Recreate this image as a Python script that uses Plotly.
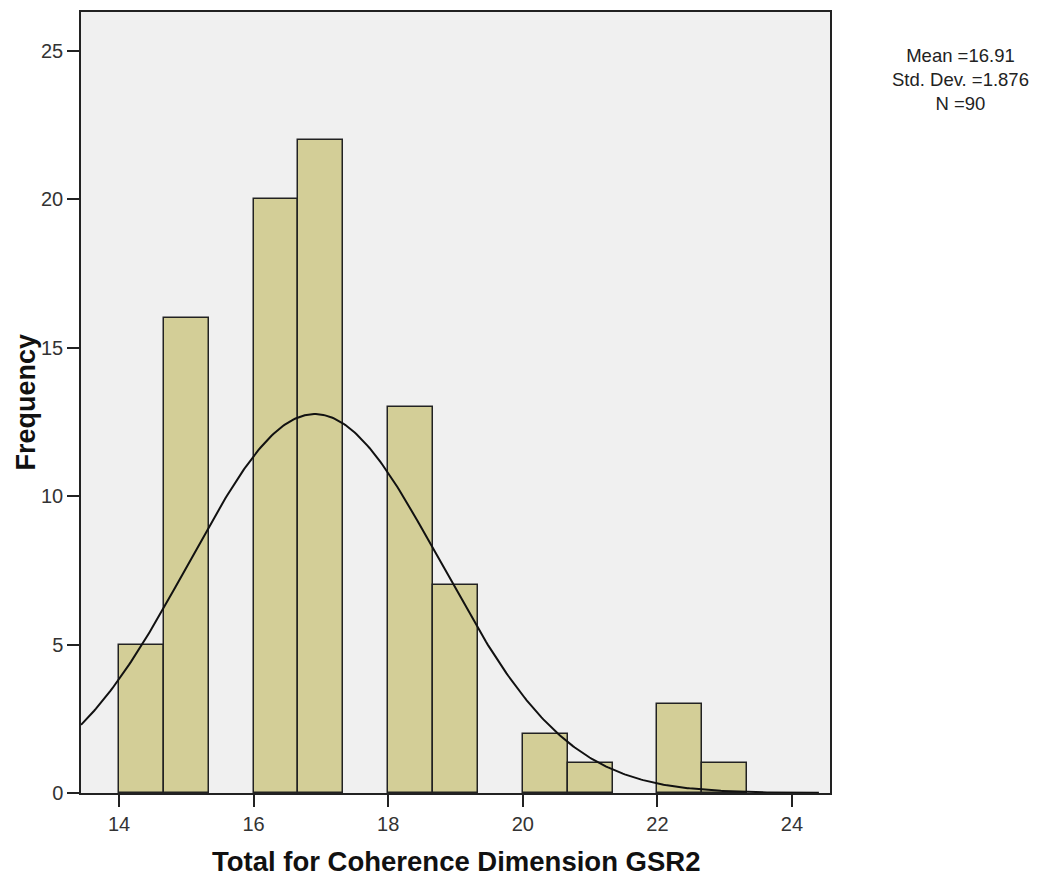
import numpy as np
import plotly.graph_objects as go

# Histogram data
bin_start = 14.0
bin_width = 2.0 / 3.0
counts = [5, 16, 0, 20, 22, 0, 13, 7, 0, 2, 1, 0, 3, 1]

# Summary statistics (as printed)
mean_val = 16.91
sd_val = 1.876
n_val = 90

x_ticks = [14, 16, 18, 20, 22, 24]
y_ticks = [0, 5, 10, 15, 20, 25]

x_title = "Total for Coherence Dimension GSR2"
y_title = "Frequency"

centers = [bin_start + bin_width * (i + 0.5) for i in range(len(counts))]
xs = [c for c, v in zip(centers, counts) if v > 0]
ys = [v for v in counts if v > 0]

x_range = [13.435, 24.565]
y_range = [0, 26.3]

curve_x = np.linspace(x_range[0], 24.4, 400)
curve_y = n_val * bin_width / (sd_val * np.sqrt(2 * np.pi)) * np.exp(-0.5 * ((curve_x - mean_val) / sd_val) ** 2)

fig = go.Figure()
fig.add_trace(go.Bar(
    x=xs, y=ys, width=bin_width,
    marker=dict(color="#d3ce97", line=dict(color="#222222", width=1.5)),
    hoverinfo="x+y",
))
fig.add_trace(go.Scatter(
    x=curve_x, y=curve_y, mode="lines",
    line=dict(color="#111111", width=2),
    hoverinfo="skip",
))

stat_text = f"Mean ={mean_val:.2f}<br>Std. Dev. ={sd_val:.3f}<br>N ={n_val}"
annotations = [
    dict(
        xref="paper", yref="paper", x=1.1736, y=1,
        xanchor="center", yanchor="middle", yshift=-67, align="center",
        text=stat_text, showarrow=False, font=dict(size=18.5, color="#222222"),
    ),
    dict(
        xref="paper", yref="paper", x=0.5, y=0, xanchor="center", yanchor="middle",
        yshift=-68, text=f"<b>{x_title}</b>", showarrow=False,
        font=dict(size=27.5, color="#111111"),
    ),
    dict(
        xref="paper", yref="paper", x=0, y=0.5, xanchor="center", yanchor="middle",
        xshift=-56, textangle=-90, text=f"<b>{y_title}</b>", showarrow=False,
        font=dict(size=27, color="#111111"),
    ),
]

fig.update_layout(
    width=1041, height=877,
    margin=dict(l=81, r=211, t=12, b=84),
    paper_bgcolor="white",
    plot_bgcolor="#f0f0f0",
    showlegend=False,
    bargap=0,
    font=dict(family="Liberation Sans, Arial, sans-serif", color="#222222", size=20),
    xaxis=dict(
        range=x_range, tickvals=x_ticks, ticks="outside", ticklen=12, tickwidth=1.5,
        tickcolor="#222222", showgrid=False, zeroline=False, automargin=False,
        showline=True, linecolor="#222222", linewidth=1.5, mirror=True,
        tickfont=dict(size=20, color="#333333"),
    ),
    yaxis=dict(
        range=y_range, tickvals=y_ticks, ticks="outside", ticklen=12, tickwidth=1.5,
        tickcolor="#222222", showgrid=False, zeroline=False, automargin=False,
        showline=True, linecolor="#222222", linewidth=1.5, mirror=True,
        tickfont=dict(size=20, color="#333333"),
    ),
    annotations=annotations,
)

fig.write_html("out.html")
